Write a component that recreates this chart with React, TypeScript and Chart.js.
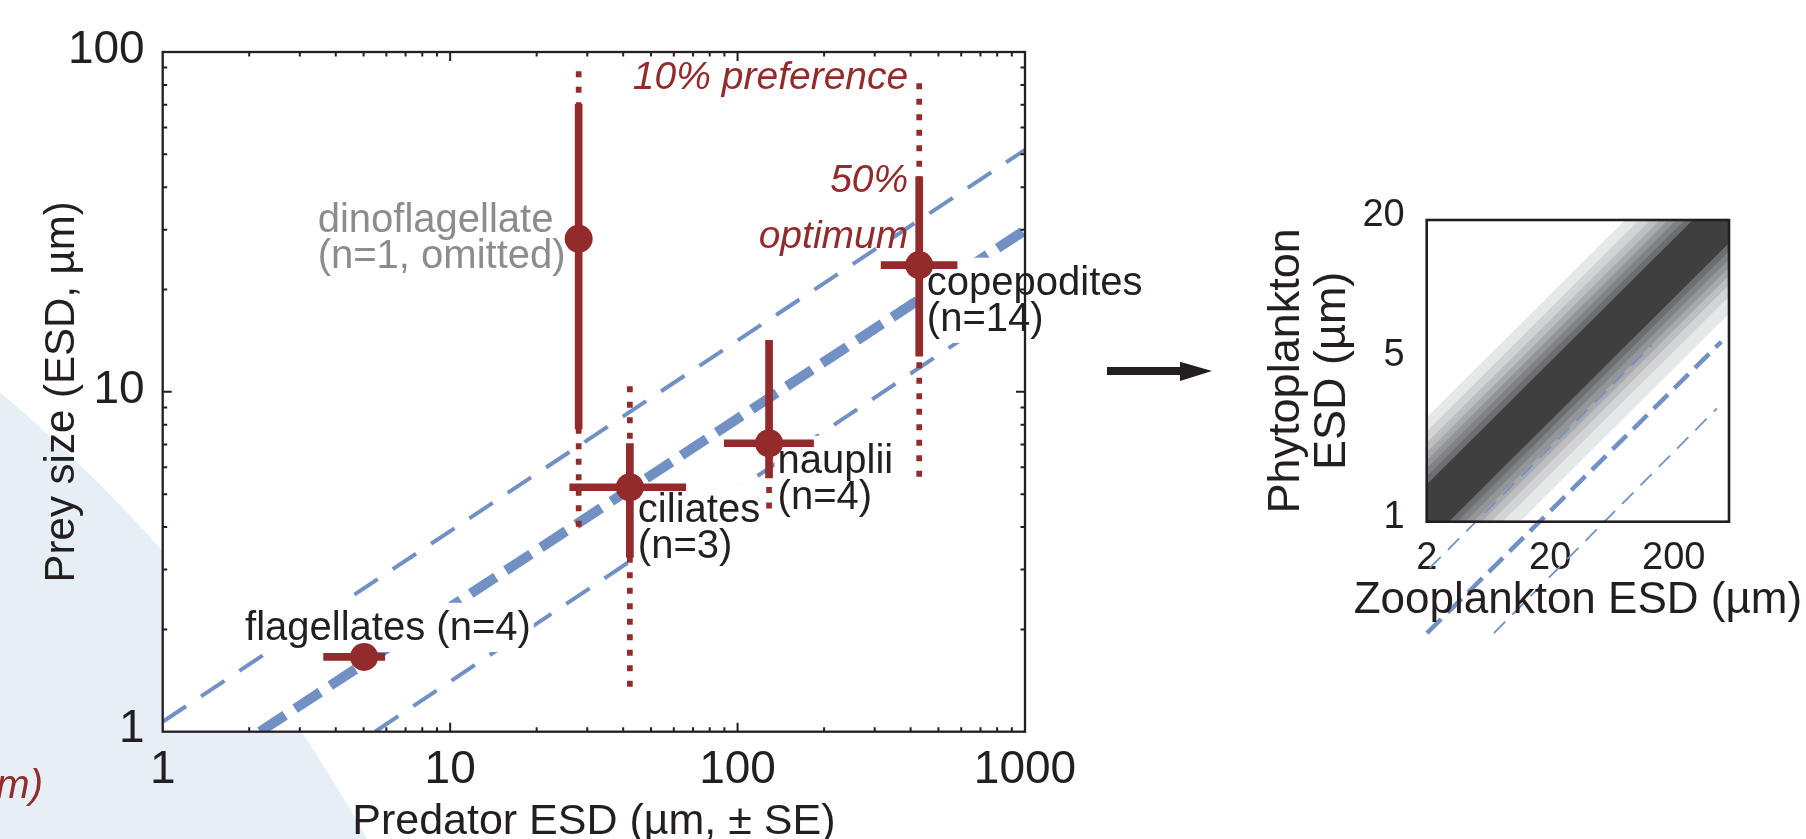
import React, { useEffect, useRef } from 'react';
import { Chart, registerables } from 'chart.js';

Chart.register(...registerables);

const FONT = "'Liberation Sans', Arial, sans-serif";
const INK = '#231f20';
const RED = '#932a2b';
const BLUE = '#7190c4';
const LABEL_GRAY = '#8a8c8e';
const BLOB = '#e5eff5';

// ---------------- main panel data ----------------
const groupLabels = [
  ['flagellates (n=4)'],
  ['dinoflagellate', '(n=1, omitted)'],
  ['ciliates', '(n=3)'],
  ['nauplii', '(n=4)'],
  ['copepodites', '(n=14)'],
];
const predatorESD = [5.02, 28.0, 42.2, 128.7, 428.5];
const predatorSELow = [3.62, NaN, 26.0, 89.7, 315];
const predatorSEHigh = [5.94, NaN, 66.2, 184.3, 582];
const preyOptimum = [1.66, 28.2, 5.24, 7.06, 23.6];
const prey50Low = [NaN, 7.76, 3.25, 5.57, 12.7];
const prey50High = [NaN, 70.3, 7.06, 14.2, 43.0];
const prey10Low = [NaN, 4.01, 1.356, 4.54, 5.63];
const prey10High = [NaN, 93.0, 10.5, 14.2, 80.9];

const ratioUpper = [{ x: 1, y: 1.07 }, { x: 1000, y: 51.5 }];
const ratioOptimum = [{ x: 2.18, y: 1 }, { x: 1000, y: 29.9 }];
const ratioLower = [{ x: 5.48, y: 1 }, { x: 1000, y: 19.0 }];

const prefLabels = ['10% preference', '50%', 'optimum'];

const xTicksMain = [1, 10, 100, 1000];
const yTicksMain = [1, 10, 100];

// ---------------- inset data ----------------
const insetXTicks = [2, 20, 200];
const insetYTicks = [1, 5, 20];
const ridgeLine = [{ x: 1, y: 0.76 }, { x: 1000, y: 29.5 }];
const bandUpperOffset = [0.41, 0.35, 0.3, 0.26, 0.225, 0.19, 0.155, 0.12];
const bandLowerOffset = [0.44, 0.365, 0.315, 0.275, 0.24, 0.205, 0.17, 0.135];
const bandColors = ['#e6e7e8', '#d1d3d4', '#bcbec0', '#a7a9ac', '#939598', '#808285', '#6d6e71', '#3f3f40'];
const insetRatioUpper = [{ x: 2.11, y: 0.63 }, { x: 133, y: 5.78 }];
const insetRatioOptimum = [{ x: 2.01, y: 0.331 }, { x: 485, y: 5.97 }];
const insetRatioLower = [{ x: 7.0, y: 0.331 }, { x: 447, y: 3.08 }];

// ---------------- layout (pixels) ----------------
const W = 1806;
const H = 839;
const MAIN_AREA = { left: 162.7, top: 52, right: 1025, bottom: 731.7 };
const labelLayout = [
  { dx: -119, dy: -16.7, color: INK },
  { dx: -261, dy: -7, color: LABEL_GRAY },
  { dx: 8, dy: 35, color: INK },
  { dx: 8.5, dy: 30, color: INK },
  { dx: 7.6, dy: 30, color: INK },
];
const LABEL_LINE = 36;
const prefLayout = { dx: -11, dys: [-176, -73, -17] };

const INSET_CANVAS = { left: 1240, top: 170, width: 566, height: 669 };
const INSET_AREA = { left: 186.7, top: 50, right: 489, bottom: 351.7 };

function segs(pairs: any[]) {
  const out: any[] = [];
  pairs.forEach(([a, b]) => {
    if (!isFinite(a.y) || !isFinite(b.y) || !isFinite(a.x) || !isFinite(b.x)) return;
    out.push(a, b, { x: a.x, y: null });
  });
  return out;
}

const dottedData = segs(predatorESD.map((x, i) => [{ x, y: prey10Low[i] }, { x, y: prey10High[i] }]));
const solidData = segs(predatorESD.map((x, i) => [{ x, y: prey50Low[i] }, { x, y: prey50High[i] }]));
const horizData = segs(predatorESD.map((x, i) => [{ x: predatorSELow[i], y: preyOptimum[i] }, { x: predatorSEHigh[i], y: preyOptimum[i] }]));
const pointData = predatorESD.map((x, i) => ({ x, y: preyOptimum[i] }));

const DOTTED_INDEX = 3;

function drawLabelBlock(ctx: any, lines: string[], x: number, y: number, color: string) {
  ctx.font = `40px ${FONT}`;
  ctx.textAlign = 'left';
  ctx.textBaseline = 'alphabetic';
  const pad = 3;
  let w = 0;
  lines.forEach((l) => { w = Math.max(w, ctx.measureText(l).width); });
  const top = y - 40 * 0.86 - pad;
  const bottom = y + (lines.length - 1) * LABEL_LINE + 40 * 0.22 + pad;
  ctx.fillStyle = '#ffffff';
  ctx.fillRect(x - pad, top, w + 2 * pad, bottom - top);
  ctx.fillStyle = color;
  lines.forEach((l, i) => ctx.fillText(l, x, y + i * LABEL_LINE));
}

const mainPlugin = {
  id: 'mainDecor',
  beforeDraw(chart: any) {
    const { ctx, chartArea: a } = chart;
    ctx.save();
    ctx.fillStyle = BLOB;
    ctx.beginPath();
    ctx.moveTo(0, H);
    ctx.arc(-1063.5, 1639.4, 1639.2, -0.87, -0.505, false);
    ctx.lineTo(372, H);
    ctx.closePath();
    ctx.fill();
    ctx.fillStyle = '#ffffff';
    ctx.fillRect(a.left, a.top, a.right - a.left, a.bottom - a.top);
    ctx.font = `italic 40px ${FONT}`;
    ctx.fillStyle = RED;
    ctx.textAlign = 'right';
    ctx.textBaseline = 'alphabetic';
    ctx.fillText('µm)', 43, 798);
    ctx.restore();
  },
  beforeDatasetDraw(chart: any, args: any) {
    if (args.index !== DOTTED_INDEX) return;
    const { ctx, scales } = chart;
    ctx.save();
    groupLabels.forEach((lines, i) => {
      const px = scales.x.getPixelForValue(predatorESD[i]);
      const py = scales.y.getPixelForValue(preyOptimum[i]);
      const L = labelLayout[i];
      drawLabelBlock(ctx, lines, px + L.dx, py + L.dy, L.color);
    });
    const cx = scales.x.getPixelForValue(predatorESD[4]);
    const cy = scales.y.getPixelForValue(preyOptimum[4]);
    ctx.font = `italic 39px ${FONT}`;
    ctx.fillStyle = RED;
    ctx.textAlign = 'right';
    ctx.textBaseline = 'alphabetic';
    prefLabels.forEach((t, k) => ctx.fillText(t, cx + prefLayout.dx, cy + prefLayout.dys[k]));
    ctx.restore();
  },
  afterDraw(chart: any) {
    const { ctx, chartArea: a, scales } = chart;
    const x = scales.x;
    const y = scales.y;
    ctx.save();
    ctx.strokeStyle = INK;
    ctx.lineWidth = 2;
    ctx.beginPath();
    for (let d = 1; d < 1000; d *= 10) {
      for (let m = 1; m <= 10; m++) {
        const v = d * m;
        if (v === 1 || v === 1000) continue;
        const len = m === 1 || m === 10 ? 9 : 4.5;
        const px = x.getPixelForValue(v);
        ctx.moveTo(px, a.bottom);
        ctx.lineTo(px, a.bottom - len);
        ctx.moveTo(px, a.top);
        ctx.lineTo(px, a.top + len);
      }
    }
    for (let d = 1; d < 100; d *= 10) {
      for (let m = 2; m <= 10; m++) {
        const v = d * m;
        if (v === 100) continue;
        const len = m === 10 ? 9 : 4.5;
        const py = y.getPixelForValue(v);
        ctx.moveTo(a.left, py);
        ctx.lineTo(a.left + len, py);
        ctx.moveTo(a.right, py);
        ctx.lineTo(a.right - len, py);
      }
    }
    ctx.stroke();
    ctx.lineWidth = 2.3;
    ctx.strokeRect(a.left, a.top, a.right - a.left, a.bottom - a.top);
    ctx.restore();
  },
};

function mainConfig(): any {
  return {
    type: 'line',
    data: {
      datasets: [
        { label: 'optimum', data: pointData, showLine: false, pointRadius: 14, pointHoverRadius: 14, pointBackgroundColor: RED, pointBorderWidth: 0, order: 0 },
        { label: '50% range', data: solidData, borderColor: RED, borderWidth: 7.7, pointRadius: 0, borderCapStyle: 'butt', spanGaps: false, order: 1 },
        { label: 'SE', data: horizData, borderColor: RED, borderWidth: 7.7, pointRadius: 0, borderCapStyle: 'butt', spanGaps: false, order: 1 },
        { label: '10% range', data: dottedData, borderColor: RED, borderWidth: 5.7, borderDash: [6, 9.5], pointRadius: 0, borderCapStyle: 'butt', spanGaps: false, order: 2 },
        { label: 'upper', data: ratioUpper, borderColor: BLUE, borderWidth: 4, borderDash: [28, 18], pointRadius: 0, order: 3 },
        { label: 'opt line', data: ratioOptimum, borderColor: BLUE, borderWidth: 10, borderDash: [30, 12], pointRadius: 0, order: 3 },
        { label: 'lower', data: ratioLower, borderColor: BLUE, borderWidth: 4, borderDash: [28, 18], pointRadius: 0, order: 3 },
      ],
    },
    options: {
      animation: false,
      responsive: false,
      maintainAspectRatio: false,
      events: [],
      layout: { padding: { left: 0, top: MAIN_AREA.top, right: W - MAIN_AREA.right, bottom: 0 } },
      plugins: { legend: { display: false }, tooltip: { enabled: false } },
      scales: {
        x: {
          type: 'logarithmic',
          min: 1,
          max: 1000,
          position: 'bottom',
          afterBuildTicks: (s: any) => { s.ticks = xTicksMain.map((v) => ({ value: v })); },
          afterFit: (s: any) => { s.height = H - MAIN_AREA.bottom; },
          ticks: { callback: (v: any) => String(v), font: { family: FONT, size: 46 }, color: INK, padding: 3, autoSkip: false, maxRotation: 0 },
          grid: { display: false },
          border: { display: false },
          title: { display: true, text: 'Predator ESD (µm, ± SE)', color: INK, font: { family: FONT, size: 43, lineHeight: 1 }, padding: { top: 0, bottom: -5 } },
        },
        y: {
          type: 'logarithmic',
          min: 1,
          max: 100,
          position: 'left',
          afterBuildTicks: (s: any) => { s.ticks = yTicksMain.map((v) => ({ value: v })); },
          afterFit: (s: any) => { s.width = MAIN_AREA.left; },
          ticks: { callback: (v: any) => String(v), font: { family: FONT, size: 46 }, color: INK, padding: 10, autoSkip: false, labelOffset: -2 },
          grid: { display: false },
          border: { display: false },
          title: { display: true, text: 'Prey size (ESD, µm)', color: INK, font: { family: FONT, size: 42, lineHeight: 1 }, padding: { top: 41, bottom: 0 } },
        },
      },
    },
    plugins: [mainPlugin],
  };
}

const insetPlugin = {
  id: 'insetDecor',
  afterDraw(chart: any) {
    const { ctx, chartArea: a } = chart;
    ctx.save();
    ctx.strokeStyle = INK;
    ctx.lineWidth = 2.6;
    ctx.strokeRect(a.left, a.top, a.right - a.left, a.bottom - a.top);
    ctx.font = `44px ${FONT}`;
    ctx.fillStyle = INK;
    ctx.textAlign = 'center';
    ctx.textBaseline = 'alphabetic';
    ctx.fillText('Zooplankton ESD (µm)', (a.left + a.right) / 2, a.bottom + 91.6);
    ctx.restore();
  },
};

function insetConfig(): any {
  const datasets: any[] = [];
  bandColors.forEach((c, k) => {
    const lo = ridgeLine.map((p) => ({ x: p.x, y: p.y / Math.pow(10, bandLowerOffset[k]) }));
    const hi = ridgeLine.map((p) => ({ x: p.x, y: p.y * Math.pow(10, bandUpperOffset[k]) }));
    datasets.push({ data: lo, borderColor: 'rgba(0,0,0,0)', borderWidth: 0, pointRadius: 0, fill: false, order: 100 - k });
    datasets.push({ data: hi, borderColor: 'rgba(0,0,0,0)', borderWidth: 0, pointRadius: 0, fill: '-1', backgroundColor: c, order: 100 - k });
  });
  datasets.push({ data: insetRatioUpper, borderColor: BLUE, borderWidth: 1.8, borderDash: [16, 10], pointRadius: 0, clip: false, order: 0 });
  datasets.push({ data: insetRatioOptimum, borderColor: BLUE, borderWidth: 4.5, borderDash: [20, 9], pointRadius: 0, clip: false, order: 0 });
  datasets.push({ data: insetRatioLower, borderColor: BLUE, borderWidth: 1.8, borderDash: [16, 10], pointRadius: 0, clip: false, order: 0 });
  return {
    type: 'line',
    data: { datasets },
    options: {
      animation: false,
      responsive: false,
      maintainAspectRatio: false,
      events: [],
      layout: { padding: { left: 0, top: INSET_AREA.top, right: INSET_CANVAS.width - INSET_AREA.right, bottom: 0 } },
      plugins: { legend: { display: false }, tooltip: { enabled: false }, filler: { propagate: false } },
      scales: {
        x: {
          type: 'logarithmic',
          min: 2,
          max: 560,
          position: 'bottom',
          afterBuildTicks: (s: any) => { s.ticks = insetXTicks.map((v) => ({ value: v })); },
          afterFit: (s: any) => { s.height = INSET_CANVAS.height - INSET_AREA.bottom; },
          ticks: { callback: (v: any) => String(v), font: { family: FONT, size: 38 }, color: INK, padding: 6, autoSkip: false, maxRotation: 0 },
          grid: { display: false },
          border: { display: false },
        },
        y: {
          type: 'logarithmic',
          min: 1,
          max: 20,
          position: 'left',
          afterBuildTicks: (s: any) => { s.ticks = insetYTicks.map((v) => ({ value: v })); },
          afterFit: (s: any) => { s.width = INSET_AREA.left; },
          ticks: { callback: (v: any) => String(v), font: { family: FONT, size: 38 }, color: INK, padding: 14, autoSkip: false, labelOffset: -4 },
          grid: { display: false },
          border: { display: false },
          title: { display: true, text: ['Phytoplankton', 'ESD (µm)'], color: INK, font: { family: FONT, size: 45, lineHeight: 1.033 }, padding: { top: 23.2, bottom: 0 } },
        },
      },
    },
    plugins: [insetPlugin],
  };
}

export default function App() {
  const mainRef = useRef<HTMLCanvasElement>(null);
  const insetRef = useRef<HTMLCanvasElement>(null);

  useEffect(() => {
    const main = new Chart(mainRef.current as HTMLCanvasElement, mainConfig());
    const inset = new Chart(insetRef.current as HTMLCanvasElement, insetConfig());
    return () => {
      main.destroy();
      inset.destroy();
    };
  }, []);

  return (
    <div style={{ position: 'fixed', left: 0, top: 0, width: W, height: H, overflow: 'hidden', background: '#ffffff' }}>
      <canvas ref={mainRef} width={W} height={H} style={{ position: 'absolute', left: 0, top: 0, width: W, height: H }} />
      <canvas
        ref={insetRef}
        width={INSET_CANVAS.width}
        height={INSET_CANVAS.height}
        style={{ position: 'absolute', left: INSET_CANVAS.left, top: INSET_CANVAS.top, width: INSET_CANVAS.width, height: INSET_CANVAS.height }}
      />
      <svg width={130} height={40} style={{ position: 'absolute', left: 1100, top: 351 }}>
        <path d="M7 16 L80 16 L80 10.7 L112 20 L80 30 L80 24 L7 24 Z" fill={INK} />
      </svg>
    </div>
  );
}
